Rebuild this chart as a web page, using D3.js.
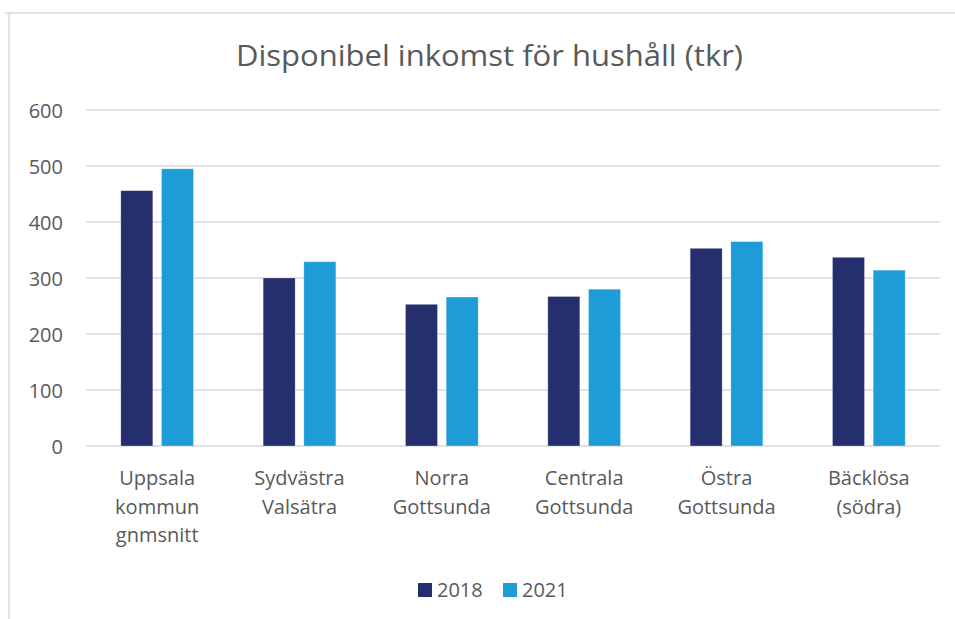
<!DOCTYPE html>
<html>
<head>
<meta charset="utf-8">
<script src="https://cdn.jsdelivr.net/npm/d3@7"></script>
<style>
  html, body { margin: 0; padding: 0; background: #fff; }
  svg { display: block; }
  text { font-family: "Open Sans", "Noto Sans", sans-serif; fill: #595959; }
</style>
</head>
<body>
<script>
const categories = [
  ["Uppsala", "kommun", "gnmsnitt"],
  ["Sydvästra", "Valsätra"],
  ["Norra", "Gottsunda"],
  ["Centrala", "Gottsunda"],
  ["Östra", "Gottsunda"],
  ["Bäcklösa", "(södra)"]
];
const seriesNames = ["2018", "2021"];
const values2018 = [456, 300, 253, 267, 353, 337];
const values2021 = [495, 329, 266, 280, 365, 314];
const yTicks = [0, 100, 200, 300, 400, 500, 600];
const title = "Disponibel inkomst för hushåll (tkr)";

const colors = ["#262F6E", "#1E9CD8"];
const W = 955, H = 619;
const svg = d3.select("body").append("svg").attr("width", W).attr("height", H);

// chart frame
svg.append("line").attr("x1", 5).attr("x2", W).attr("y1", 13).attr("y2", 13)
  .attr("stroke", "#d9d9d9").attr("stroke-width", 1.5);
svg.append("line").attr("x1", 9).attr("x2", 9).attr("y1", 13).attr("y2", H)
  .attr("stroke", "#d9d9d9").attr("stroke-width", 1.5);

svg.append("text").attr("x", 489.5).attr("y", 66)
  .attr("text-anchor", "middle").attr("font-size", 29).attr("font-weight", 400)
  .attr("textLength", 507).attr("lengthAdjust", "spacingAndGlyphs")
  .text(title);

const m = { left: 86, right: 940, top: 110, bottom: 446 };
const x = d3.scaleBand().domain(d3.range(categories.length)).range([m.left, m.right]);
const y = d3.scaleLinear().domain([0, 600]).range([m.bottom, m.top]);

// gridlines
svg.append("g").selectAll("line").data(yTicks).join("line")
  .attr("x1", m.left).attr("x2", m.right)
  .attr("y1", d => y(d)).attr("y2", d => y(d))
  .attr("stroke", "#d9d9d9").attr("stroke-width", 1.5);

// y axis labels
const yAxis = d3.axisLeft(y).tickValues(yTicks).tickSize(0).tickPadding(0);
const ya = svg.append("g").attr("transform", `translate(63,0)`).call(yAxis);
ya.select(".domain").remove();
ya.selectAll("text").attr("font-size", 20).attr("fill", "#595959")
  .style("font-family", '"Open Sans", sans-serif').attr("dy", "0.35em");

// bars
const barW = 32, gap = 8.7;
const series = [values2018, values2021];
categories.forEach((c, i) => {
  const cx = x(i) + x.bandwidth() / 2;
  const groupStart = cx - (2 * barW + gap) / 2;
  series.forEach((vals, s) => {
    svg.append("rect")
      .attr("x", groupStart + s * (barW + gap))
      .attr("width", barW)
      .attr("y", y(vals[i]))
      .attr("height", y(0) - y(vals[i]))
      .attr("fill", colors[s])
      .attr("stroke", "#ffffff").attr("stroke-opacity", 0.35).attr("stroke-width", 0.8);
  });
});

// category labels
categories.forEach((c, i) => {
  const cx = x(i) + x.bandwidth() / 2;
  const t = svg.append("text").attr("text-anchor", "middle").attr("font-size", 20);
  c.forEach((line, j) => {
    t.append("tspan").attr("x", cx).attr("y", 485 + j * 28.5).text(line);
  });
});

// legend
const legend = [{ name: seriesNames[0], x: 418 }, { name: seriesNames[1], x: 503 }];
legend.forEach((l, i) => {
  svg.append("rect").attr("x", l.x).attr("y", 583).attr("width", 14).attr("height", 14).attr("fill", colors[i]);
  svg.append("text").attr("x", l.x + 19).attr("y", 597).attr("font-size", 20).text(l.name);
});
</script>
</body>
</html>
